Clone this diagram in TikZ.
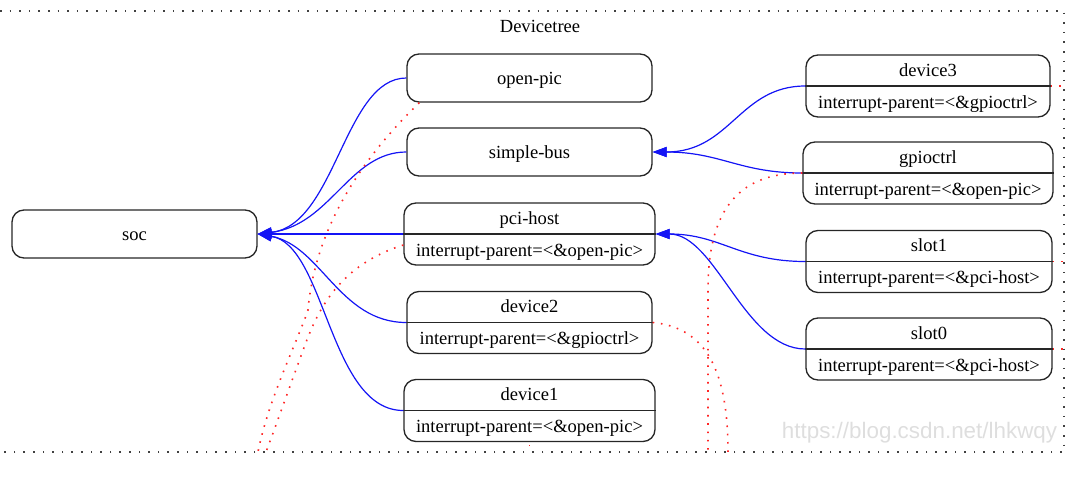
\documentclass[tikz,border=0pt]{standalone}
\usepackage{fontspec}
\setmainfont{Liberation Serif}
\newfontfamily\wmfont{Liberation Sans}
\usetikzlibrary{arrows.meta,calc}
\begin{document}
\begin{tikzpicture}[x=0.75pt,y=-0.75pt,
  every node/.style={font=\fontsize{13.9}{16}\selectfont},
  box/.style={draw=black!85, line width=1pt, rounded corners=9pt, inner sep=0pt,
    minimum width=245*0.75pt, minimum height=48*0.75pt},
  rec/.style={box, minimum height=62*0.75pt},
  wide/.style={minimum width=251*0.75pt},
  sep/.style={draw=black!85, line width=1pt},
  txt/.style={inner sep=0pt, text height=11pt, text depth=2pt},
  up/.style={yshift=12pt},
  dn/.style={yshift=-12pt},
  tree/.style={draw={rgb,255:red,20;green,20;blue,245}, line width=0.9pt,
    -{Triangle[length=10.5pt,width=7.5pt]}},
  irq/.style={draw=red!85, line width=1.2pt, dash pattern=on 1.2pt off 5pt},
  frame/.style={draw=black!75, line width=1.1pt, dash pattern=on 1.2pt off 6pt}
]
\useasboundingbox (0,0) rectangle (1084,482);

% cluster frame (left side lies outside the picture)
\draw[frame] (0,11) -- (1064,11) -- (1064,452) -- (0,452);
\node[txt] (title) at (540,26) {Devicetree};

% watermark
\node[txt, text=black!13, font=\wmfont\fontsize{16.8}{19}\selectfont] (wm) at (919.5,432) {https://blog.csdn.net/lhkwqy};

% plain nodes
\node[box] (soc) at (134.5,234) {};
\node[txt] (soc-t) at (soc.center) {soc};
\node[box] (openpic) at (529.5,78) {};
\node[txt] (openpic-t) at (openpic.center) {open-pic};
\node[box] (simplebus) at (529.5,152) {};
\node[txt] (simplebus-t) at (simplebus.center) {simple-bus};

% record nodes
\node[rec, wide] (pcihost) at (529.5,234) {};
\draw[sep] (pcihost.west) -- (pcihost.east);
\node[txt, up] (pcihost-t) at (pcihost.center) {pci-host};
\node[txt, dn] (pcihost-b) at (pcihost.center) {interrupt-parent=<\&open-pic>};

\node[rec] (device2) at (529.5,322.5) {};
\draw[sep] (device2.west) -- (device2.east);
\node[txt, up] (device2-t) at (device2.center) {device2};
\node[txt, dn] (device2-b) at (device2.center) {interrupt-parent=<\&gpioctrl>};

\node[rec, wide] (device1) at (529.5,410.5) {};
\draw[sep] (device1.west) -- (device1.east);
\node[txt, up] (device1-t) at (device1.center) {device1};
\node[txt, dn] (device1-b) at (device1.center) {interrupt-parent=<\&open-pic>};

\node[rec, minimum width=244*0.75pt] (device3) at (928,86) {};
\draw[sep] (device3.west) -- (device3.east);
\node[txt, up] (device3-t) at (device3.center) {device3};
\node[txt, dn] (device3-b) at (device3.center) {interrupt-parent=<\&gpioctrl>};

\node[rec, minimum width=250*0.75pt] (gpioctrl) at (928,173) {};
\draw[sep] (gpioctrl.west) -- (gpioctrl.east);
\node[txt, up] (gpioctrl-t) at (gpioctrl.center) {gpioctrl};
\node[txt, dn] (gpioctrl-b) at (gpioctrl.center) {interrupt-parent=<\&open-pic>};

\node[rec, minimum width=246*0.75pt] (slot1) at (929,261.5) {};
\draw[sep] (slot1.west) -- (slot1.east);
\node[txt, up] (slot1-t) at (slot1.center) {slot1};
\node[txt, dn] (slot1-b) at (slot1.center) {interrupt-parent=<\&pci-host>};

\node[rec, minimum width=246*0.75pt] (slot0) at (929,349) {};
\draw[sep] (slot0.west) -- (slot0.east);
\node[txt, up] (slot0-t) at (slot0.center) {slot0};
\node[txt, dn] (slot0-b) at (slot0.center) {interrupt-parent=<\&pci-host>};

% tree edges (child -> parent)
\draw[tree] (openpic.west) .. controls +(-62,0) and +(78,-9) .. (soc.east);
\draw[tree] (simplebus.west) .. controls +(-57,0) and +(73,-9) .. (soc.east);
\draw[tree] (pcihost.west) -- (soc.east);
\draw[tree] (device2.west) .. controls +(-67,0) and +(63,11) .. (soc.east);
\draw[tree] (device1.west) .. controls +(-74,0) and +(68,11) .. (soc.east);
\draw[tree] (device3.west) .. controls +(-66,0) and +(78,0) .. (simplebus.east);
\draw[tree] (gpioctrl.west) .. controls +(-63,0) and +(68,0) .. (simplebus.east);
\draw[tree] (slot1.west) .. controls +(-66,0) and +(65,0) .. (pcihost.east);
\draw[tree] (slot0.west) .. controls +(-61,0) and +(60,0) .. (pcihost.east);

% interrupt-parent references (leave the cluster)
\coordinate (fA) at (258,452);
\coordinate (fB) at (266,452);
\coordinate (fC) at (708,452);
\coordinate (fD) at (728,452);
\coordinate (fE) at (529.5,453);
\coordinate (fF) at (1064,86);
\coordinate (fG) at (1064,261.5);
\coordinate (fH) at (1064,349);

\draw[irq] ($(openpic.south west)+(13,0)$) .. controls +(-60,58) and +(7,-80) .. (308,310)
  .. controls +(-10,30) and +(10,-52) .. (fA);
\draw[irq] ($(pcihost.west)+(0,11)$) .. controls +(-64,20) and +(13,-35) .. (305,345)
  .. controls +(-13,35) and +(12,-32) .. (fB);
\draw[irq] (gpioctrl.west) .. controls +(-68,0) and +(0,-75) .. (708,290) -- (fC);
\draw[irq] (device2.east) .. controls +(53,5) and +(0,-82) .. (fD);
\draw[irq] ([yshift=-2pt]device1.south) -- (fE);
\draw[irq] (device3.east) -- (fF);
\draw[irq] (slot1.east) -- (fG);
\draw[irq] (slot0.east) -- (fH);
\end{tikzpicture}
\end{document}
